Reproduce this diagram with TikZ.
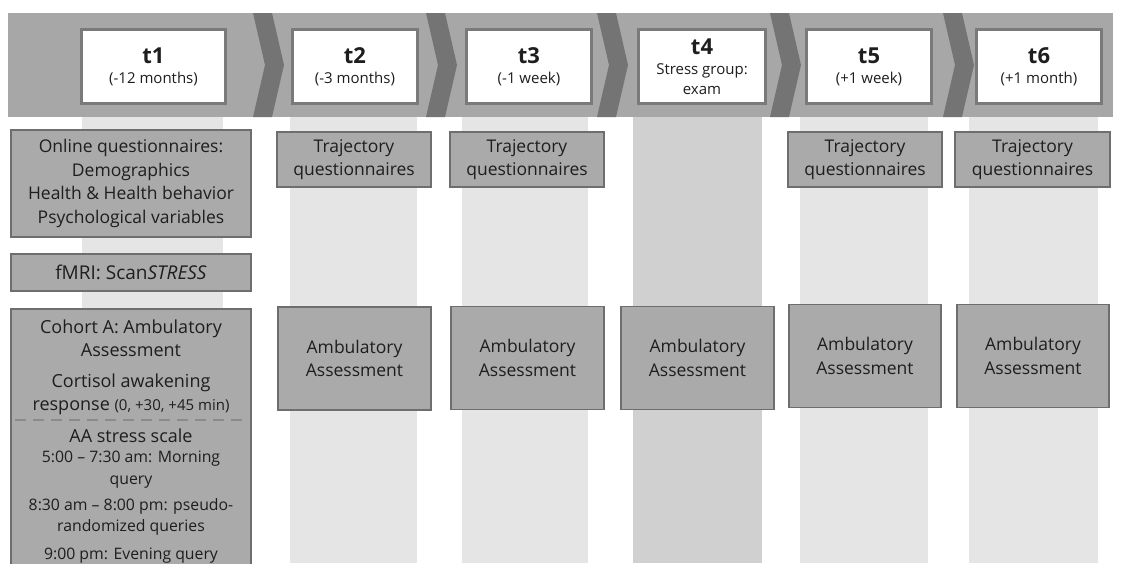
\documentclass[tikz,border=0pt]{standalone}
\usepackage{fontspec}
\setmainfont{Open Sans}
\usepackage{tikz}
\usetikzlibrary{calc}

\definecolor{bandgray}{HTML}{A7A7A7}
\definecolor{chevgray}{HTML}{747474}
\definecolor{edgegray}{HTML}{7A7A7A}
\definecolor{boxgray}{HTML}{AAAAAA}
\definecolor{boxedge}{HTML}{6E6E6E}
\definecolor{colgray}{HTML}{E5E5E5}
\definecolor{examgray}{HTML}{D0D0D0}
\definecolor{inkgray}{HTML}{1E1E1E}

\tikzset{
  timebox/.style={draw=edgegray, line width=3pt, fill=white, minimum width=125pt,
    minimum height=74pt, inner sep=0pt, align=center, text=inkgray,
    font=\fontsize{15}{20}\selectfont},
  taskbox/.style={draw=boxedge, line width=1.6pt, fill=boxgray, inner sep=0pt,
    align=center, text=inkgray, font=\fontsize{17.5}{23.5}\selectfont},
  plaintext/.style={inner sep=0pt, align=center, text=inkgray},
  sepline/.style={draw=boxedge!80, line width=2.2pt, dash pattern=on 11pt off 7pt},
}
\newcommand{\tlabel}[1]{{\fontsize{22}{22}\selectfont\bfseries #1}}

\begin{document}
\begin{tikzpicture}[x=1pt,y=-1pt]
% \draw[lightgray] (0,0) grid[step=50] (1122,563);
\clip (0,0) rectangle (1122,563);
\fill[white] (0,0) rectangle (1122,563);

% time band with chevrons
\fill[bandgray] (8,13) rectangle (1113,117);
\fill[chevgray] (253,13) -- ++(19,0) -- ++(12,52) -- ++(-12,52) -- ++(-19,0) -- ++(12,-52) -- cycle;
\fill[chevgray] (426,13) -- ++(19,0) -- ++(12,52) -- ++(-12,52) -- ++(-19,0) -- ++(12,-52) -- cycle;
\fill[chevgray] (597,13) -- ++(19,0) -- ++(12,52) -- ++(-12,52) -- ++(-19,0) -- ++(12,-52) -- cycle;
\fill[chevgray] (770,13) -- ++(19,0) -- ++(12,52) -- ++(-12,52) -- ++(-19,0) -- ++(12,-52) -- cycle;
\fill[chevgray] (943,13) -- ++(19,0) -- ++(12,52) -- ++(-12,52) -- ++(-19,0) -- ++(12,-52) -- cycle;

% columns under each time point
\fill[colgray]  (82,117) rectangle (223,563);
\fill[colgray]  (290,117) rectangle (417,563);
\fill[colgray]  (462,117) rectangle (588,563);
\fill[examgray] (633,117) rectangle (762,563);
\fill[colgray]  (800,117) rectangle (928,563);
\fill[colgray]  (969,117) rectangle (1098,563);

% time points
\node[timebox, minimum width=144pt] (t1) at (153.5,66.5) {\tlabel{t1}\\(-12 months)};
\node[timebox] (t2) at (355,66.5) {\tlabel{t2}\\(-3 months)};
\node[timebox] (t3) at (529,66.5) {\tlabel{t3}\\(-1 week)};
\node[timebox, minimum width=127pt] (t4) at (702,66.5) {\tlabel{t4}\\Stress group:\\exam};
\node[timebox] (t5) at (869,66.5) {\tlabel{t5}\\(+1 week)};
\node[timebox] (t6) at (1039,66.5) {\tlabel{t6}\\(+1 month)};

% t1 measures
\node[taskbox, minimum width=240pt, minimum height=107pt] (online) at (131,183.5)
  {Online questionnaires:\\Demographics\\Health \& Health behavior\\Psychological variables};
\node[taskbox, minimum width=240pt, minimum height=37pt, font=\fontsize{19}{23}\selectfont] (fmri) at (131,272.5)
  {fMRI: Scan\textit{STRESS}};
\node[taskbox, minimum width=240pt, minimum height=280pt] (cohort) at (131,449) {};
\node[plaintext, font=\fontsize{18}{23.5}\selectfont] (cohortA) at (131,367.5)
  {Cohort A: Ambulatory\\Assessment\\[7pt]Cortisol awakening\\response {\fontsize{15}{23.5}\selectfont(0, +30, +45 min)}};
\draw[sepline] (15,420) -- (247,420);
\node[plaintext, font=\fontsize{18}{20}\selectfont] (aaScale) at (131,436) {AA stress scale};
\node[plaintext, font=\fontsize{15.8}{21.5}\selectfont] (queries) at (131,507.5)
  {5:00 -- 7:30 am: Morning\\query\\[4.5pt]8:30 am -- 8:00 pm: pseudo-\\randomized queries\\[6.5pt]9:00 pm: Evening query};

% trajectory questionnaires
\node[taskbox, minimum width=154pt, minimum height=55pt] (traj2) at (354,159.5) {Trajectory\\questionnaires};
\node[taskbox, minimum width=154pt, minimum height=55pt] (traj3) at (527,159.5) {Trajectory\\questionnaires};
\node[taskbox, minimum width=154pt, minimum height=55pt] (traj5) at (865,159.5) {Trajectory\\questionnaires};
\node[taskbox, minimum width=155pt, minimum height=55pt] (traj6) at (1032.5,159.5) {Trajectory\\questionnaires};

% ambulatory assessment
\node[taskbox, minimum width=153pt, minimum height=103pt] (amb2) at (354.5,358.5) {Ambulatory\\Assessment};
\node[taskbox, minimum width=153pt, minimum height=103pt] (amb3) at (527.5,358) {Ambulatory\\Assessment};
\node[taskbox, minimum width=153pt, minimum height=103pt] (amb4) at (697.5,358) {Ambulatory\\Assessment};
\node[taskbox, minimum width=152pt, minimum height=103pt] (amb5) at (865,356) {Ambulatory\\Assessment};
\node[taskbox, minimum width=152pt, minimum height=103pt] (amb6) at (1033,356) {Ambulatory\\Assessment};

\end{tikzpicture}
\end{document}
